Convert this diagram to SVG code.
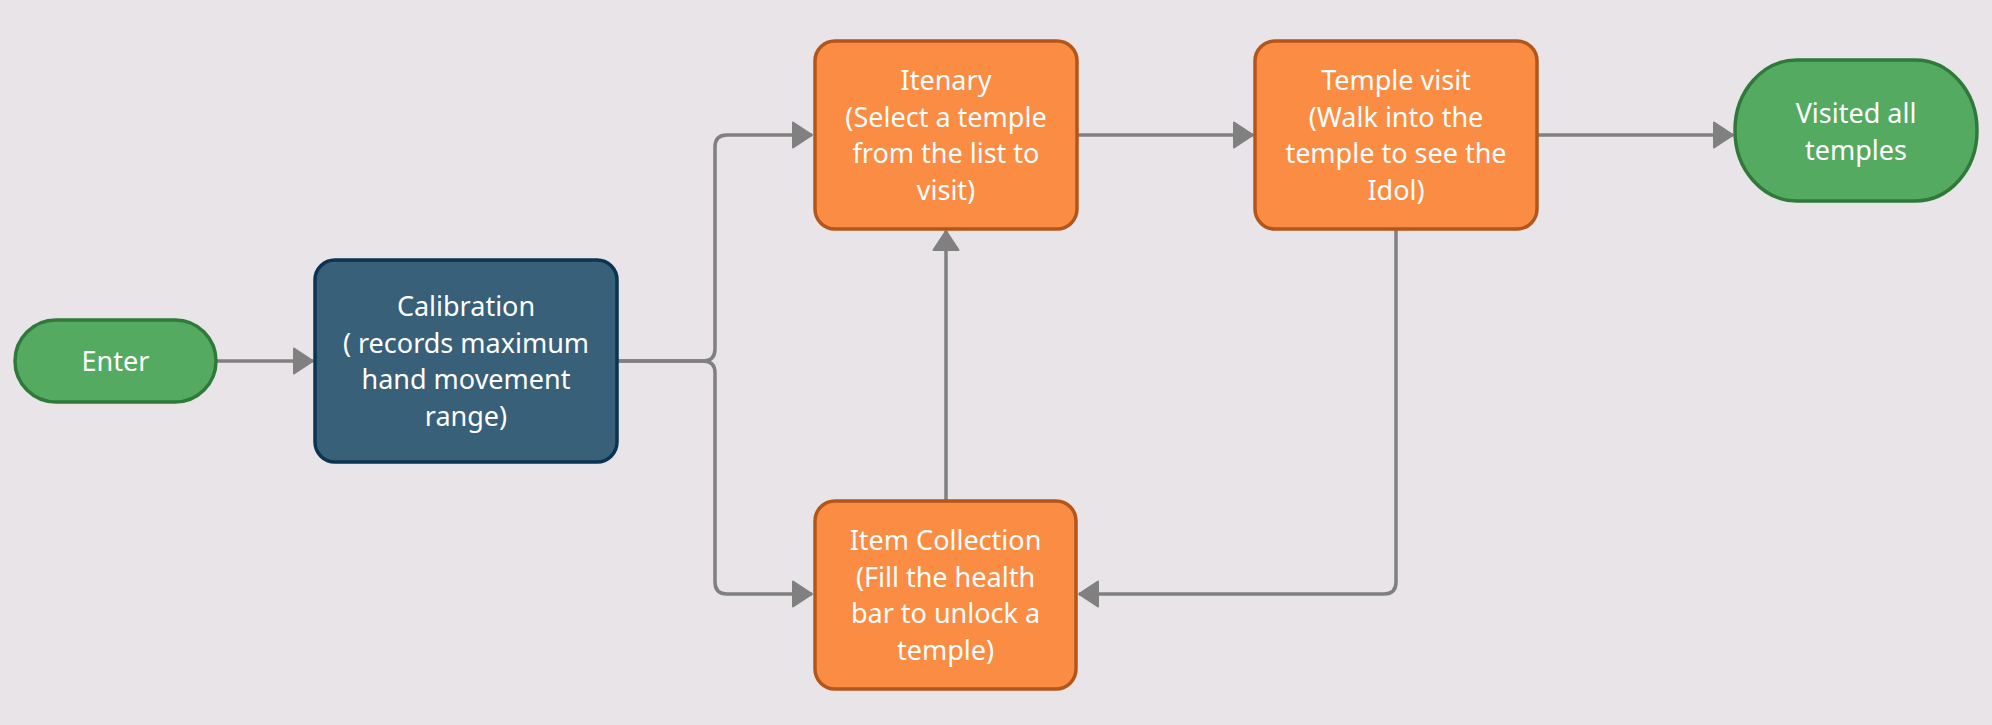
<svg xmlns="http://www.w3.org/2000/svg" width="1992" height="725" viewBox="0 0 1992 725">
<style>
.bg{fill:#E8E4E8}
.term{fill:#55AA61;stroke:#2F7A3A;stroke-width:3.5}
.calib{fill:#386079;stroke:#0B3452;stroke-width:3.5}
.proc{fill:#FB8C43;stroke:#B3561B;stroke-width:3.5}
.lbl{font-family:"Noto Sans","Open Sans","DejaVu Sans",sans-serif;font-size:27px;fill:#FFFFFF;text-anchor:middle}
.conn{fill:none;stroke:#808080;stroke-width:3.5}
</style>
<defs>
<marker id="arr" markerUnits="userSpaceOnUse" markerWidth="24" markerHeight="30" refX="20" refY="14" orient="auto">
<path d="M1,1.5 L20,14 L1,26.5 Z" fill="#808080" stroke="#808080" stroke-width="2" stroke-linejoin="round"/>
</marker>
</defs>
<rect class="bg" x="0" y="0" width="1992" height="725"/>
<g id="connectors">
<path class="conn" d="M217,361 L313,361" marker-end="url(#arr)"/>
<path class="conn" d="M617,361 L703,361 Q715,361 715,349 L715,147 Q715,135 727,135 L812,135" marker-end="url(#arr)"/>
<path class="conn" d="M617,361 L703,361 Q715,361 715,373 L715,582 Q715,594 727,594 L812,594" marker-end="url(#arr)"/>
<path class="conn" d="M946,500 L946,231" marker-end="url(#arr)"/>
<path class="conn" d="M1077,135 L1253,135" marker-end="url(#arr)"/>
<path class="conn" d="M1537,135 L1733,135" marker-end="url(#arr)"/>
<path class="conn" d="M1396,229 L1396,582 Q1396,594 1384,594 L1079,594" marker-end="url(#arr)"/>
</g>
<g id="enter">
<rect class="term" x="15" y="320" width="201" height="82" rx="41" ry="41"/>
<text class="lbl" x="115.5" y="371">Enter</text>
</g>
<g id="calibration">
<rect class="calib" x="315" y="260" width="302" height="202" rx="20" ry="20"/>
<text class="lbl" x="466" y="316">Calibration</text>
<text class="lbl" x="466" y="352.5">( records maximum</text>
<text class="lbl" x="466" y="389">hand movement</text>
<text class="lbl" x="466" y="425.5">range)</text>
</g>
<g id="itenary">
<rect class="proc" x="815" y="41" width="262" height="188" rx="20" ry="20"/>
<text class="lbl" x="946" y="90">Itenary</text>
<text class="lbl" x="946" y="126.5">(Select a temple</text>
<text class="lbl" x="946" y="163">from the list to</text>
<text class="lbl" x="946" y="199.5">visit)</text>
</g>
<g id="temple-visit">
<rect class="proc" x="1255" y="41" width="282" height="188" rx="20" ry="20"/>
<text class="lbl" x="1396" y="90">Temple visit</text>
<text class="lbl" x="1396" y="126.5">(Walk into the</text>
<text class="lbl" x="1396" y="163">temple to see the</text>
<text class="lbl" x="1396" y="199.5">Idol)</text>
</g>
<g id="visited">
<rect class="term" x="1735" y="60" width="242" height="141" rx="62" ry="70"/>
<text class="lbl" x="1856" y="123">Visited all</text>
<text class="lbl" x="1856" y="159.5">temples</text>
</g>
<g id="item-collection">
<rect class="proc" x="815" y="501" width="261" height="188" rx="20" ry="20"/>
<text class="lbl" x="945.5" y="550">Item Collection</text>
<text class="lbl" x="945.5" y="586.5">(Fill the health</text>
<text class="lbl" x="945.5" y="623">bar to unlock a</text>
<text class="lbl" x="945.5" y="659.5">temple)</text>
</g>
</svg>
